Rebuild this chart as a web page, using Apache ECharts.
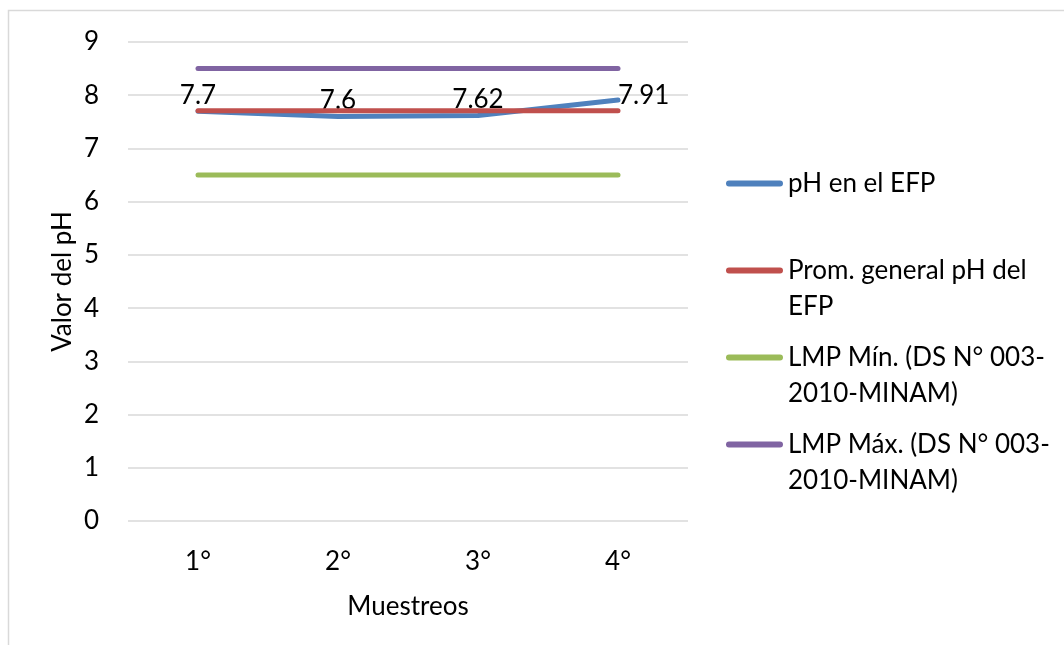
<!DOCTYPE html>
<html>
<head>
<meta charset="utf-8">
<script src="https://cdn.jsdelivr.net/npm/echarts@6/dist/echarts.min.js"></script>
<style>
  html, body { margin: 0; padding: 0; background: #ffffff; }
  #chart { width: 1064px; height: 645px; }
</style>
</head>
<body>
<div id="chart"></div>
<script>
// Sampling rounds on the x axis
const categories = ['1°', '2°', '3°', '4°'];

// Measured pH at each sampling
const phValues = [7.7, 7.6, 7.62, 7.91];
// Overall average pH
const phAverage = [7.71, 7.71, 7.71, 7.71];
// Permissible limits (DS N° 003-2010-MINAM)
const lmpMin = [6.5, 6.5, 6.5, 6.5];
const lmpMax = [8.5, 8.5, 8.5, 8.5];

// Y axis ticks
const yTicks = [0, 1, 2, 3, 4, 5, 6, 7, 8, 9];

const xTitle = 'Muestreos';
const yTitle = 'Valor del pH';

const seriesNames = [
  'pH en el EFP',
  'Prom. general pH del EFP',
  'LMP Mín. (DS N° 003-2010-MINAM)',
  'LMP Máx. (DS N° 003-2010-MINAM)'
];
// Every legend entry takes two lines so all entries share one geometry
const legendText = {
  'pH en el EFP': 'pH en el EFP\n ',
  'Prom. general pH del EFP': 'Prom. general pH del\nEFP',
  'LMP Mín. (DS N° 003-2010-MINAM)': 'LMP Mín. (DS N° 003-\n2010-MINAM)',
  'LMP Máx. (DS N° 003-2010-MINAM)': 'LMP Máx. (DS N° 003-\n2010-MINAM)'
};
const colors = ['#4F81BD', '#C0504D', '#9BBB59', '#8064A2'];

const FONT = 'Lato, "Open Sans", sans-serif';
const FS = 26;
const LH = 36;

const GRID = { left: 128, right: 376, top: 42, bottom: 124 };

const chart = echarts.init(document.getElementById('chart'), null, { renderer: 'canvas' });

function lineSeries(name, values, color, extra) {
  return Object.assign({
    name: name,
    type: 'line',
    data: values,
    showSymbol: true,
    symbol: 'circle',
    symbolSize: 0,
    lineStyle: { color: color, width: 5, cap: 'round', join: 'round' },
    itemStyle: { color: color },
    emphasis: { disabled: true },
    animation: false
  }, extra || {});
}

// Blue series labels: above the points, last one to the right
const phData = phValues.map((v, i) => {
  if (i === phValues.length - 1) {
    return { value: v, label: { position: 'right', distance: 0, offset: [0, -4] } };
  }
  return { value: v };
});

// Legend icon: a rounded bar at the top of a 57x43 box, so it sits level
// with the first text line (the empty segment at the bottom only sets the box)
const ICON_H = 43;
const capsuleTop = 'path://M3,0 L54,0 A3,3 0 0 1 54,6 L3,6 A3,3 0 0 1 3,0 Z M0,43 L57,43';

// Vertical title of the value axis, centred on the plot height
const yTitleCenterY = GRID.top + (645 - GRID.top - GRID.bottom) / 2;

chart.setOption({
  backgroundColor: '#ffffff',
  animation: false,
  textStyle: { fontFamily: FONT },
  graphic: [{
    type: 'rect',
    shape: { x: 8.5, y: 10.5, width: 1200, height: 800 },
    style: { fill: 'none', stroke: '#D9D9D9', lineWidth: 1.5 },
    silent: true,
    z: -1
  }, {
    type: 'text',
    x: 63,
    y: yTitleCenterY,
    rotation: Math.PI / 2,
    style: {
      text: yTitle,
      fontFamily: FONT,
      fontSize: FS,
      fill: '#000',
      align: 'center',
      verticalAlign: 'middle'
    },
    silent: true
  }],
  grid: Object.assign({ containLabel: false }, GRID),
  legend: {
    orient: 'vertical',
    left: 726,
    top: 166,
    padding: 0,
    itemGap: 15,
    itemWidth: 57,
    itemHeight: ICON_H,
    icon: capsuleTop,
    itemStyle: { borderWidth: 0 },
    data: seriesNames,
    formatter: name => legendText[name],
    textStyle: { fontFamily: FONT, fontSize: FS, color: '#000', lineHeight: LH },
    selectedMode: false
  },
  xAxis: {
    type: 'category',
    data: categories,
    boundaryGap: true,
    name: xTitle,
    nameLocation: 'middle',
    nameGap: 73,
    nameTextStyle: { fontFamily: FONT, fontSize: FS, color: '#000' },
    axisLine: { show: false },
    axisTick: { show: false },
    axisLabel: { fontFamily: FONT, fontSize: FS, color: '#000', margin: 28 }
  },
  yAxis: {
    type: 'value',
    min: yTicks[0],
    max: yTicks[yTicks.length - 1],
    interval: 1,
    axisLine: { show: false },
    axisTick: { show: false },
    axisLabel: { fontFamily: FONT, fontSize: FS, color: '#000', margin: 29 },
    splitLine: { lineStyle: { color: '#D9D9D9', width: 1.5 } }
  },
  series: [
    lineSeries(seriesNames[0], phData, colors[0], {
      label: {
        show: true,
        position: 'top',
        distance: 3,
        fontFamily: FONT,
        fontSize: FS,
        color: '#000'
      },
      z: 2
    }),
    lineSeries(seriesNames[1], phAverage, colors[1], { z: 3 }),
    lineSeries(seriesNames[2], lmpMin, colors[2], { z: 3 }),
    lineSeries(seriesNames[3], lmpMax, colors[3], { z: 3 })
  ]
});
</script>
</body>
</html>
